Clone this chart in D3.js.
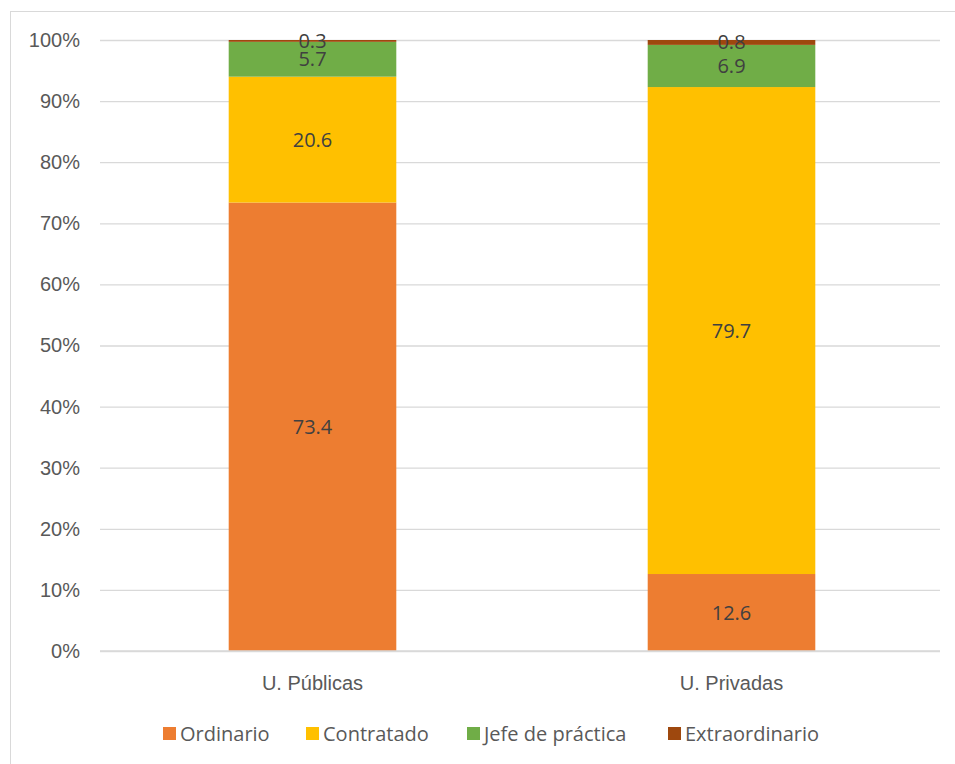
<!DOCTYPE html>
<html>
<head>
<meta charset="utf-8">
<script src="https://cdn.jsdelivr.net/npm/d3@7/dist/d3.min.js"></script>
<style>
  html, body { margin: 0; padding: 0; background: #fff; }
  svg { display: block; font-family: "Open Sans", Lato, sans-serif; }
</style>
</head>
<body>
<svg id="chart" width="955" height="764"></svg>
<script>
// Distribución de docentes por categoría (%)
const categories = ["U. Públicas", "U. Privadas"];
const seriesNames = ["Ordinario", "Contratado", "Jefe de práctica", "Extraordinario"];
const ordinario = [73.4, 12.6];
const contratado = [20.6, 79.7];
const jefePractica = [5.7, 6.9];
const extraordinario = [0.3, 0.8];
const yTicks = [0, 10, 20, 30, 40, 50, 60, 70, 80, 90, 100];
const colors = ["#ED7D31", "#FFC000", "#70AD47", "#9E480E"];

const rows = categories.map((c, i) => ({
  cat: c,
  "Ordinario": ordinario[i],
  "Contratado": contratado[i],
  "Jefe de práctica": jefePractica[i],
  "Extraordinario": extraordinario[i]
}));

const svg = d3.select("#chart");
const W = 955, H = 764;
const plot = { left: 100, right: 940, top: 40, bottom: 651 };
const FS = 20;

// chart frame
svg.append("rect")
  .attr("x", 10.5).attr("y", 11.5)
  .attr("width", W).attr("height", H)
  .attr("fill", "none").attr("stroke", "#d9d9d9").attr("stroke-width", 1);

const x = d3.scaleBand().domain(categories)
  .range([plot.left + 3, plot.right + 1]).paddingInner(0.6).paddingOuter(0.3);
const y = d3.scaleLinear().domain([0, 100]).range([plot.bottom, plot.top]);

// gridlines and y labels
const yAxis = d3.axisLeft(y).tickValues(yTicks)
  .tickSize(-(plot.right - plot.left)).tickPadding(20)
  .tickFormat(d => d + "%");
const gy = svg.append("g").attr("transform", `translate(${plot.left},0)`).call(yAxis);
gy.select(".domain").remove();
gy.selectAll(".tick line").attr("stroke", "#d9d9d9").attr("stroke-width", 1.3);
gy.selectAll(".tick text").attr("fill", "#595959").attr("font-size", FS);

// stacked bars
const stack = d3.stack().keys(seriesNames);
const layers = stack(rows);

const gBars = svg.append("g");
layers.forEach((layer, li) => {
  gBars.selectAll(null).data(layer).enter().append("rect")
    .attr("x", d => x(d.data.cat))
    .attr("width", x.bandwidth())
    .attr("y", d => y(d[1]))
    .attr("height", d => y(d[0]) - y(d[1]))
    .attr("fill", colors[li]);
});

// x axis
const xAxis = d3.axisBottom(x).tickSize(0).tickPadding(25);
const gx = svg.append("g").attr("transform", `translate(0,${plot.bottom})`).call(xAxis);
gx.select(".domain").attr("stroke", "#d9d9d9").attr("stroke-width", 1.3)
  .attr("d", `M${plot.left},0H${plot.right}`);
gx.selectAll(".tick text").attr("fill", "#595959").attr("font-size", FS);

// data labels, centered in each segment
layers.forEach((layer, li) => {
  svg.append("g").selectAll(null).data(layer).enter().append("text")
    .attr("x", d => x(d.data.cat) + x.bandwidth() / 2)
    .attr("y", d => y((d[0] + d[1]) / 2))
    .attr("dy", "0.35em")
    .attr("text-anchor", "middle")
    .attr("fill", "#404040")
    .attr("font-size", FS)
    .text(d => d.data[layer.key].toFixed(1));
});

// legend
const legendItems = [
  { name: seriesNames[0], x: 163 },
  { name: seriesNames[1], x: 306 },
  { name: seriesNames[2], x: 467 },
  { name: seriesNames[3], x: 668 }
];
const gl = svg.append("g");
legendItems.forEach((it, i) => {
  gl.append("rect").attr("x", it.x).attr("y", 727).attr("width", 13).attr("height", 13)
    .attr("fill", colors[i]);
  gl.append("text").attr("x", it.x + 17).attr("y", 734).attr("dy", "0.35em")
    .attr("fill", "#595959").attr("font-size", FS).text(it.name);
});
</script>
</body>
</html>
